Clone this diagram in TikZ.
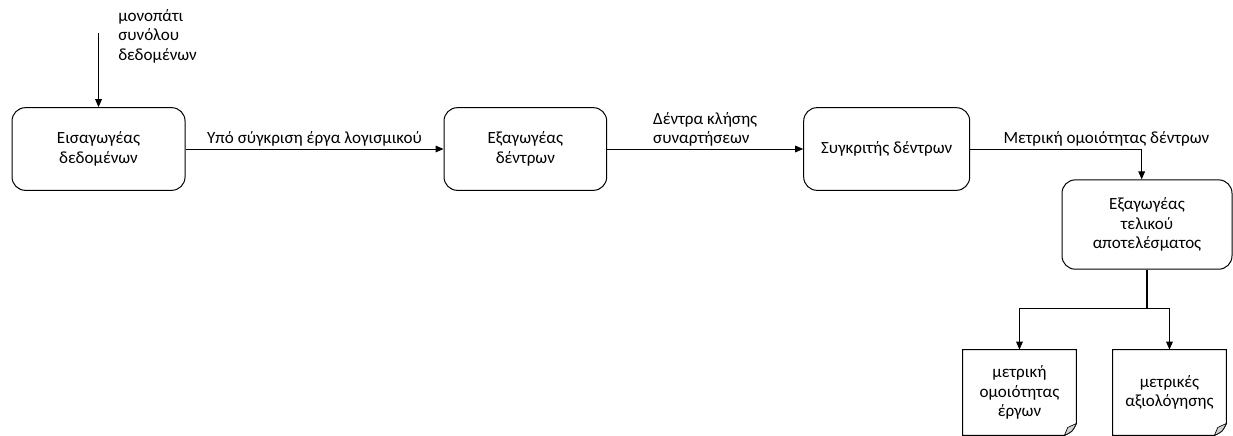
\documentclass[tikz,border=0pt]{standalone}
\usepackage{fontspec}
\setmainfont{Carlito}
\usetikzlibrary{arrows.meta,positioning,calc}

\begin{document}
\begin{tikzpicture}[
  font=\fontsize{12.8}{14.5}\selectfont,
  module/.style={rectangle, draw, rounded corners=10pt, align=center,
                 line width=0.75pt, minimum height=62pt},
  doc/.style   ={rectangle, align=center, minimum width=85pt,
                 minimum height=64pt, inner sep=2pt},
  flow/.style  ={-{Triangle[length=6pt,width=5pt]}, line width=0.75pt},
  lbl/.style   ={inner sep=1.5pt},
]
\useasboundingbox (0,0) rectangle (924.75pt,-327pt);

% === Main row ===
\node[module, minimum width=129.75pt] (imp) at (73.9pt,-111.75pt)
  {Εισαγωγέας\\δεδομένων};
\node[module, minimum width=122pt, right=193.5pt of imp] (ext)
  {Εξαγωγέας\\δέντρων};
\node[module, minimum width=124.5pt, right=147pt of ext] (cmp)
  {Συγκριτής δέντρων};
\node[module, minimum width=127.5pt, minimum height=67pt] (fin)
  at (860.25pt,-168.4pt) {Εξαγωγέας\\τελικού\\αποτελέσματος};

% === Outputs ===
\node[doc] (simdoc) at (764.6pt,-294.4pt) {μετρική\\ομοιότητας\\έργων};
\node[doc] (evaldoc) at (877.1pt,-294.4pt) {μετρικές\\αξιολόγησης};

% === Input ===
\coordinate[above=55.5pt of imp.north] (src);
\node[align=left, anchor=north west, inner sep=0pt] (dsin) at (88.5pt,-7pt)
  {μονοπάτι\\συνόλου\\δεδομένων};

% === Flow ===
\draw[flow] (src) -- (imp.north);
\draw[flow] (imp) -- node[above, lbl]{Υπό σύγκριση έργα λογισμικού} (ext);
\draw[flow] (ext) -- node[above, align=left, lbl]{Δέντρα κλήσης\\συναρτήσεων} (cmp);
\draw[flow] (cmp.east) -| node[pos=0.09, anchor=south west, lbl]
  {Μετρική ομοιότητας δέντρων} ([xshift=-4pt]fin.north);

\coordinate[below=29pt of fin.south] (split);
\draw[line width=1.2pt] (fin.south) -- (split);
\draw[flow] (split) -| (simdoc.north);
\draw[flow] (split) -| (evaldoc.north);

% === Document shapes ===
\draw[line width=0.75pt] (simdoc.north west) -- (simdoc.north east)
  -- ([yshift=9pt]simdoc.south east)
  .. controls ([shift={(-3pt,3pt)}]simdoc.south east) .. ([xshift=-9pt]simdoc.south east)
  -- (simdoc.south west) -- cycle;
\filldraw[fill=gray!35, line width=0.5pt] ([yshift=9pt]simdoc.south east)
  .. controls ([shift={(-3pt,3pt)}]simdoc.south east) .. ([xshift=-9pt]simdoc.south east)
  -- ([shift={(-6.5pt,6pt)}]simdoc.south east) -- cycle;
\draw[line width=0.75pt] (evaldoc.north west) -- (evaldoc.north east)
  -- ([yshift=9pt]evaldoc.south east)
  .. controls ([shift={(-3pt,3pt)}]evaldoc.south east) .. ([xshift=-9pt]evaldoc.south east)
  -- (evaldoc.south west) -- cycle;
\filldraw[fill=gray!35, line width=0.5pt] ([yshift=9pt]evaldoc.south east)
  .. controls ([shift={(-3pt,3pt)}]evaldoc.south east) .. ([xshift=-9pt]evaldoc.south east)
  -- ([shift={(-6.5pt,6pt)}]evaldoc.south east) -- cycle;

\end{tikzpicture}
\end{document}
